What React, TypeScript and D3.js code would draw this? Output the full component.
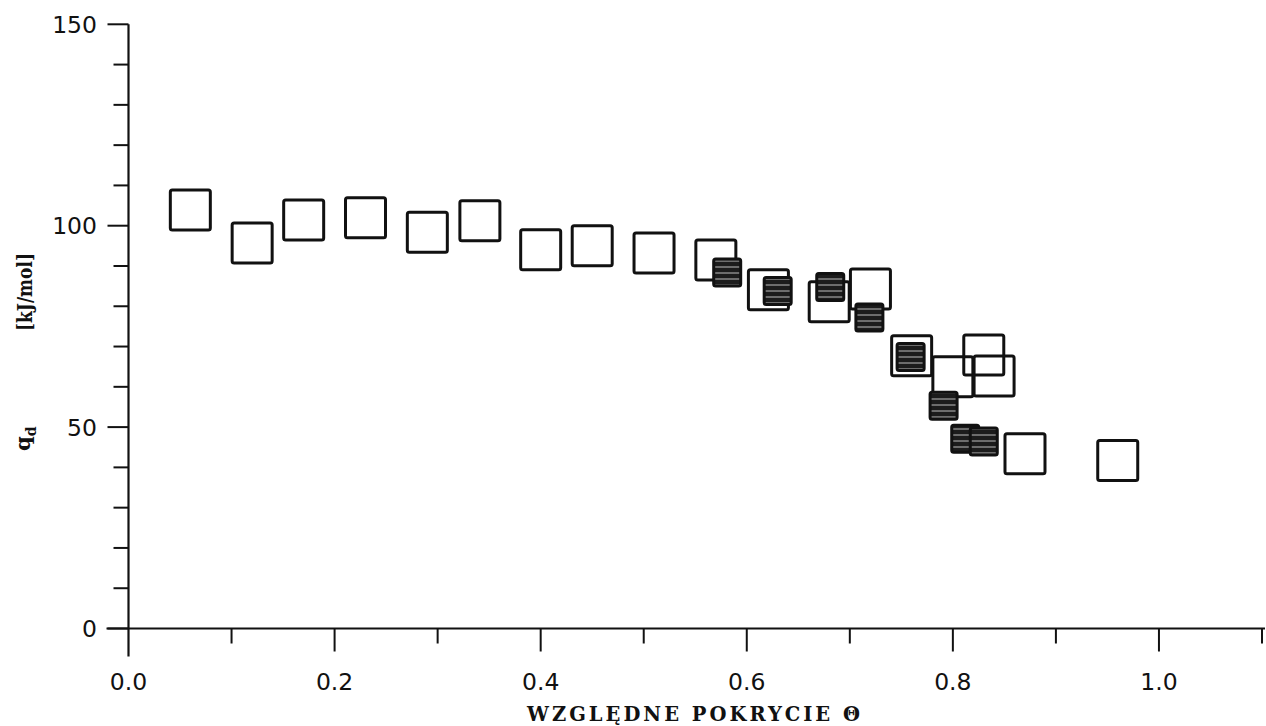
import React from "react";
import * as d3 from "d3";

// Open squares series (theta, q_d)
const openTheta = [0.06, 0.12, 0.17, 0.23, 0.29, 0.341, 0.4, 0.45, 0.51, 0.57, 0.621, 0.68, 0.72, 0.76, 0.8, 0.83, 0.84, 0.87, 0.96];
const openQ = [103.9, 95.7, 101.4, 102.0, 98.4, 101.2, 94.0, 95.0, 93.2, 91.5, 84.1, 81.1, 84.3, 67.7, 62.5, 67.9, 62.7, 43.4, 41.7];

// Filled (hatched) squares series
const filledTheta = [0.581, 0.63, 0.681, 0.719, 0.759, 0.791, 0.812, 0.83];
const filledQ = [88.4, 83.8, 84.8, 77.2, 67.4, 55.3, 47.1, 46.4];

const xMajorTicks = [0, 0.2, 0.4, 0.6, 0.8, 1.0];
const xMinorTicks = [0.1, 0.3, 0.5, 0.7, 0.9, 1.1];
const yMajorTicks = [0, 50, 100, 150];
const yMinorTicks = [10, 20, 30, 40, 60, 70, 80, 90, 110, 120, 130, 140];

const W = 1266;
const H = 726;

export default function App() {
  const x = d3.scaleLinear().domain([0, 1.1]).range([128.5, 1262]);
  const y = d3.scaleLinear().domain([0, 150]).range([628.5, 24.3]);
  const ink = "#111";
  const openSide = 40;
  const fillSide = 27;
  const tickFont = "'DejaVu Sans', sans-serif";
  const titleFont = "'DejaVu Serif', serif";

  return (
    <svg width={W} height={H} style={{ position: "absolute", left: 0, top: 0, background: "#fff" }}>
      <defs>
        <pattern id="hatch" patternUnits="userSpaceOnUse" width="8" height="6">
          <rect x="0" y="0" width="8" height="6" fill="#1c1c1c" />
          <line x1="0" x2="8" y1="3" y2="3" stroke="#d0d0d0" strokeWidth="0.9" />
        </pattern>
      </defs>
      <rect x={0} y={0} width={W} height={H} fill="#fff" />

      {/* axes lines */}
      <line x1={x(0)} x2={x(0)} y1={y(150)} y2={y(0) + 28} stroke={ink} strokeWidth={2.2} />
      <line x1={x(0) - 22} x2={1265} y1={y(0)} y2={y(0)} stroke={ink} strokeWidth={2.2} />

      {/* y ticks */}
      {yMajorTicks.map((t) => (
        <g key={"ym" + t}>
          <line x1={x(0) - 21} x2={x(0)} y1={y(t)} y2={y(t)} stroke={ink} strokeWidth={2} />
          <text x={97} y={y(t)} dy="0.36em" textAnchor="end" fontFamily={tickFont} fontSize={23.5} fill={ink}>
            {t}
          </text>
        </g>
      ))}
      {yMinorTicks.map((t) => (
        <line key={"yn" + t} x1={x(0) - 15} x2={x(0)} y1={y(t)} y2={y(t)} stroke={ink} strokeWidth={2} />
      ))}

      {/* x ticks */}
      {xMajorTicks.map((t) => (
        <g key={"xm" + t}>
          {t !== 0 && <line x1={x(t)} x2={x(t)} y1={y(0)} y2={y(0) + 23} stroke={ink} strokeWidth={2} />}
          <text x={x(t)} y={690} textAnchor="middle" fontFamily={tickFont} fontSize={23.5} fill={ink}>
            {t.toFixed(1)}
          </text>
        </g>
      ))}
      {xMinorTicks.map((t) => (
        <line key={"xn" + t} x1={x(t)} x2={x(t)} y1={y(0)} y2={y(0) + 15} stroke={ink} strokeWidth={2} />
      ))}

      {/* open squares */}
      {openTheta.map((t, i) => (
        <rect
          key={"o" + i}
          x={x(t) - openSide / 2}
          y={y(openQ[i]) - openSide / 2}
          width={openSide}
          height={openSide}
          rx={2}
          fill="none"
          stroke={ink}
          strokeWidth={3}
        />
      ))}

      {/* filled squares */}
      {filledTheta.map((t, i) => (
        <rect
          key={"f" + i}
          x={x(t) - fillSide / 2}
          y={y(filledQ[i]) - fillSide / 2}
          width={fillSide}
          height={fillSide}
          rx={2}
          fill="url(#hatch)"
          stroke={ink}
          strokeWidth={3}
        />
      ))}

      {/* x title */}
      <text
        x={527}
        y={721}
        fontFamily={titleFont}
        fontWeight="bold"
        fontSize={19.5}
        fill={ink}
        textLength={333}
        lengthAdjust="spacing"
      >
        WZGLĘDNE POKRYCIE Θ
      </text>

      {/* y title */}
      <g transform="translate(30,451) rotate(-90)">
        <text x={0} y={0} fontFamily={titleFont} fontWeight="bold" fontSize={21} fill={ink}>
          q<tspan dy={6} fontSize={14}>d</tspan>
        </text>
      </g>
      <g transform="translate(32,331) rotate(-90)">
        <text x={0} y={0} fontFamily={titleFont} fontWeight="bold" fontSize={20} fill={ink} textLength={78} lengthAdjust="spacingAndGlyphs">
          [kJ/mol]
        </text>
      </g>
    </svg>
  );
}
